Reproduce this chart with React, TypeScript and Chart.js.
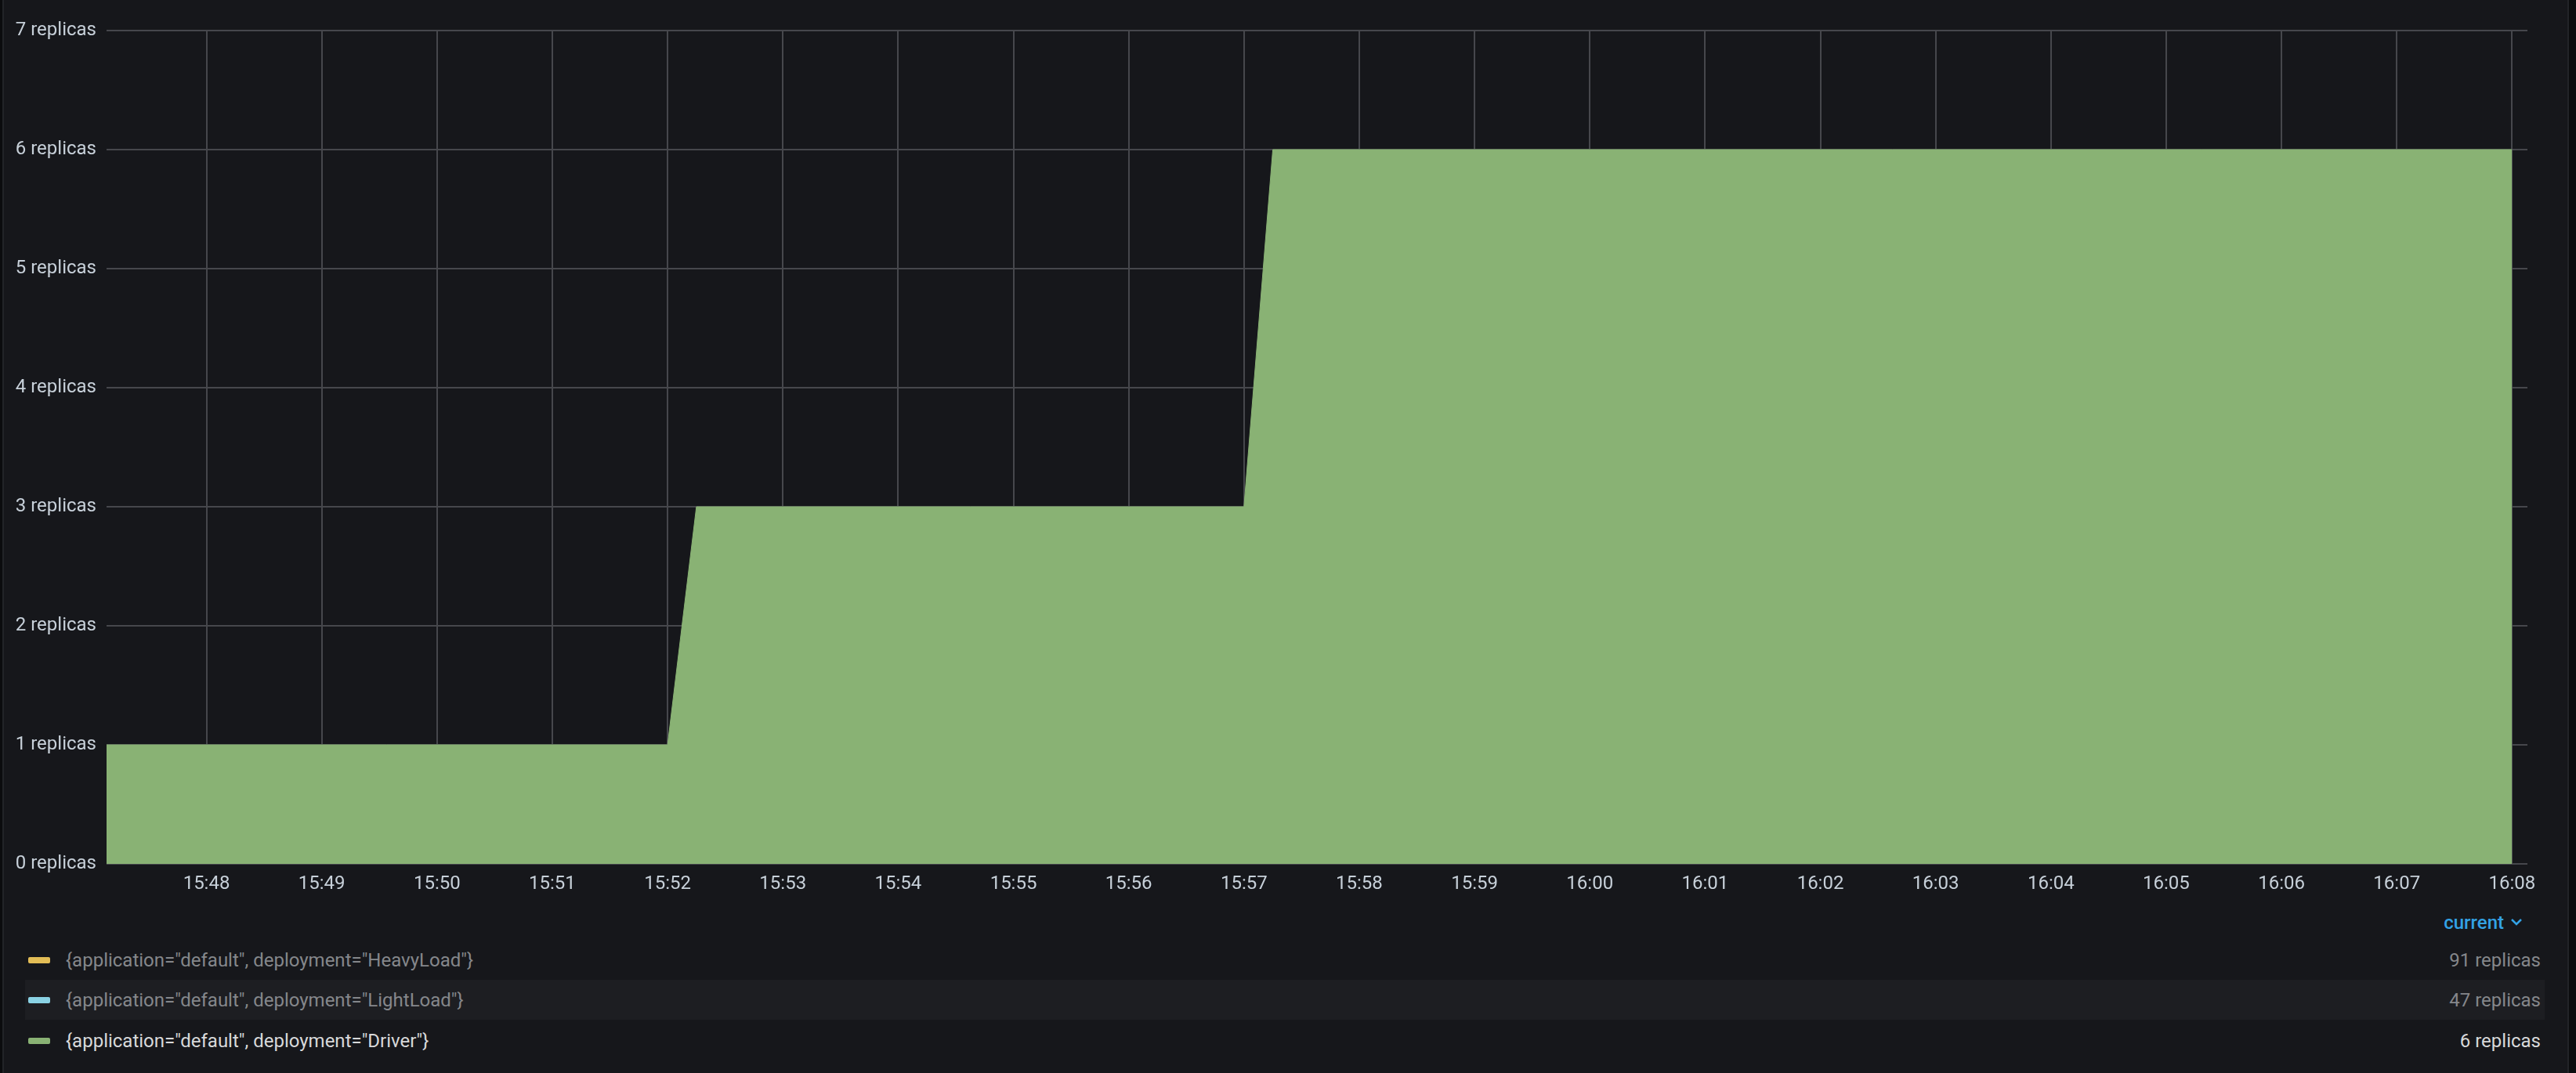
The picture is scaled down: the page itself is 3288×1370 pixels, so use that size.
import React, { useEffect, useRef } from "react";
import { Chart, registerables } from "chart.js";

Chart.register(...registerables);

// ---- data ----
const sampleTimes = ["15:47:00", "15:52:00", "15:52:15", "15:57:00", "15:57:15", "16:08:00"];
const driverReplicas = [1, 1, 3, 3, 6, 6];

const xTickLabels = [
  "15:48", "15:49", "15:50", "15:51", "15:52", "15:53", "15:54", "15:55", "15:56", "15:57",
  "15:58", "15:59", "16:00", "16:01", "16:02", "16:03", "16:04", "16:05", "16:06", "16:07", "16:08",
];
const yMin = 0;
const yMax = 7;
const rangeStart = "15:47:08";
const rangeEnd = "16:08:08";

const legendNames = [
  '{application="default", deployment="HeavyLoad"}',
  '{application="default", deployment="LightLoad"}',
  '{application="default", deployment="Driver"}',
];
const legendCurrent = [91, 47, 6];
const legendColors = ["#e3bd56", "#8ad2e4", "#89b274"];
const legendHidden = [true, true, false];

// ---- helpers ----
const toSec = (t: string) => {
  const p = t.split(":").map(Number);
  return p[0] * 3600 + p[1] * 60 + (p[2] || 0);
};

const PANEL_BG = "#16171b";
const TEXT = "#c7d0d9";
const GRID = "#46474c";
const FONT = "Roboto, 'Noto Sans', sans-serif";

function ReplicaChart() {
  const ref = useRef<HTMLCanvasElement | null>(null);
  useEffect(() => {
    if (!ref.current) return;
    const points = sampleTimes.map((t, i) => ({ x: toSec(t), y: driverReplicas[i] }));
    const chart = new Chart(ref.current, {
      type: "line",
      data: {
        datasets: [
          {
            label: legendNames[2],
            data: points,
            borderColor: legendColors[2],
            backgroundColor: legendColors[2],
            borderWidth: 1,
            fill: "origin",
            pointRadius: 0,
            tension: 0,
          },
        ],
      },
      options: {
        animation: false,
        responsive: false,
        devicePixelRatio: 1,
        layout: { padding: { top: 39, left: 0, right: 62, bottom: 0 } },
        plugins: { legend: { display: false }, tooltip: { enabled: false } },
        scales: {
          x: {
            type: "linear",
            min: toSec(rangeStart),
            max: toSec(rangeEnd),
            afterBuildTicks: (scale: any) => {
              scale.ticks = xTickLabels.map((l) => ({ value: toSec(l) }));
            },
            afterFit: (scale: any) => {
              scale.height = 57;
            },
            ticks: {
              autoSkip: false,
              maxRotation: 0,
              padding: 12,
              color: TEXT,
              font: { family: FONT, size: 24 },
              callback: (_v: any, i: number) => xTickLabels[i],
            },
            grid: { color: GRID, lineWidth: 2, drawTicks: false },
            border: { display: false },
          },
          y: {
            min: yMin,
            max: yMax,
            afterFit: (scale: any) => {
              scale.width = 136;
            },
            ticks: {
              stepSize: 1,
              padding: 13,
              color: TEXT,
              font: { family: FONT, size: 24 },
              callback: (v: any) => `${v} replicas`,
            },
            grid: { color: GRID, lineWidth: 2, drawTicks: false },
            border: { display: false },
          },
        },
      },
    });
    return () => chart.destroy();
  }, []);
  return (
    <canvas
      ref={ref}
      width={3288}
      height={1160}
      style={{ position: "absolute", left: 0, top: 0, width: 3288, height: 1160 }}
    />
  );
}

const rowCenters = [1226, 1277, 1329];

export default function App() {
  return (
    <div
      style={{
        position: "absolute",
        left: 0,
        top: 0,
        width: 3288,
        height: 1370,
        background: "#0b0c0e",
        overflow: "hidden",
        fontFamily: FONT,
      }}
    >
      <div
        style={{
          position: "absolute",
          left: 3,
          top: -10,
          width: 3272,
          height: 1400,
          background: PANEL_BG,
          borderLeft: "2px solid #222428",
          borderRight: "2px solid #222428",
        }}
      />
      <ReplicaChart />
      {/* legend header */}
      <div
        style={{
          position: "absolute",
          right: 3288 - 3196,
          top: 1178 - 14,
          height: 28,
          lineHeight: "28px",
          fontSize: 24,
          fontWeight: 500,
          color: "#33a2e5",
          whiteSpace: "nowrap",
        }}
      >
        current
      </div>
      <svg
        style={{ position: "absolute", left: 3204, top: 1170 }}
        width={16}
        height={14}
        viewBox="0 0 16 14"
      >
        <polyline points="2,4 8,10 14,4" fill="none" stroke="#33a2e5" strokeWidth={2.5} />
      </svg>
      {/* hovered row background */}
      <div
        style={{
          position: "absolute",
          left: 32,
          top: 1251,
          width: 3248 - 32,
          height: 51,
          background: "#1d1e22",
        }}
      />
      {legendNames.map((name, i) => (
        <React.Fragment key={name}>
          <div
            style={{
              position: "absolute",
              left: 36,
              top: rowCenters[i] - 4,
              width: 28,
              height: 8,
              borderRadius: 2,
              background: legendColors[i],
            }}
          />
          <div
            style={{
              position: "absolute",
              left: 84,
              top: rowCenters[i] - 14,
              height: 28,
              lineHeight: "28px",
              fontSize: 24,
              color: legendHidden[i] ? "#85878b" : "#d8d9da",
              whiteSpace: "nowrap",
            }}
          >
            {name}
          </div>
          <div
            style={{
              position: "absolute",
              right: 3288 - 3243,
              top: rowCenters[i] - 14,
              height: 28,
              lineHeight: "28px",
              fontSize: 24,
              color: legendHidden[i] ? "#85878b" : "#d8d9da",
              whiteSpace: "nowrap",
              textAlign: "right",
            }}
          >
            {`${legendCurrent[i]} replicas`}
          </div>
        </React.Fragment>
      ))}
    </div>
  );
}
